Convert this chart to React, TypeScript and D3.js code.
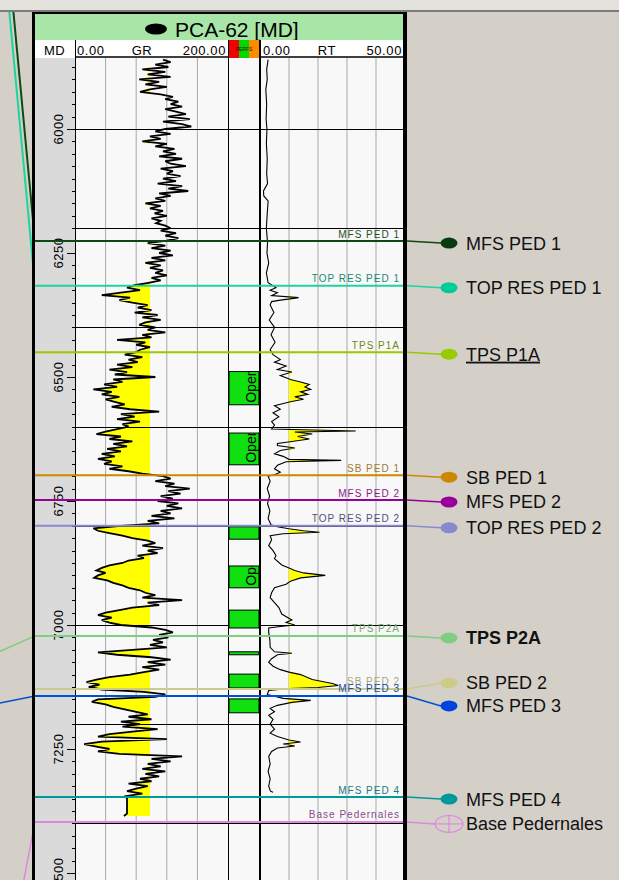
import React from 'react';
import * as d3 from 'd3';

const WIDTH = 619;
const HEIGHT = 880;
const FONT = 'Liberation Sans, Arial, Helvetica, sans-serif';

// ---- GR curve (API), regular 5 ft sampling from 5860 ft ----
const grTopDepth = 5860;
const grStep = 5;
const grValues = [
  115, 125, 105, 122, 88, 118, 95, 125,
  84, 110, 92, 120, 98, 85, 112, 128, 118, 135,
  125, 140, 118, 132, 145, 122, 150, 115, 140, 152,
  118, 105, 125, 98, 112, 88, 120, 105, 130, 115,
  132, 110, 140, 118, 125, 145, 112, 128, 120, 138,
  115, 132, 108, 140, 122, 148, 110, 125, 105, 118,
  92, 112, 98, 115, 104, 120, 100, 112, 106, 118,
  125, 112, 132, 118, 135, 120, 95, 118, 100, 125,
  110, 128, 100, 118, 92, 112, 98, 115, 105, 120,
  100, 112, 96, 78, 68, 85, 60, 35, 72, 58,
  75, 95, 82, 100, 78, 108, 88, 112, 92, 84,
  105, 95, 118, 88, 100, 55, 92, 80, 98, 85,
  80, 65, 88, 70, 82, 55, 75, 45, 68, 52,
  105, 50, 62, 38, 55, 24, 48, 35, 58, 40,
  52, 65, 48, 72, 110, 60, 78, 55, 85, 62,
  70, 55, 40, 28, 60, 45, 75, 50, 68, 42,
  60, 35, 52, 30, 48, 38, 62, 45, 70, 88,
  115, 125, 105, 130, 118, 150, 122, 138, 112, 128,
  108, 135, 120, 140, 112, 125, 100, 130, 95, 110,
  60, 24, 30, 45, 62, 75, 95, 105, 88, 115,
  95, 108, 82, 90, 70, 62, 45, 35, 28, 40,
  30, 25, 42, 50, 62, 70, 85, 92, 105, 88,
  140, 95, 110, 75, 58, 40, 30, 48, 35, 45,
  60, 100, 118, 128, 110, 122, 102, 115, 98, 120,
  75, 30, 55, 100, 125, 95, 118, 88, 110, 90,
  72, 45, 28, 15, 32, 18, 35, 90, 118, 105,
  30, 22, 40, 50, 65, 80, 95, 70, 100, 60,
  85, 62, 108, 75, 45, 30, 120, 35, 12, 28,
  45, 30, 58, 140, 100, 125, 95, 112, 88, 118,
  92, 110, 85, 100, 70, 95, 80, 68, 88, 66,
  68, 68, 68, 68, 68, 68, 68, 64,
];
const grCutoff = 98;

// ---- RT curve (ohm.m) ----
const rtDepths = [
  5860, 5880, 5900, 5920, 5950, 5980, 6000, 6030, 6060, 6090, 6110, 6125, 6135, 6145, 6170, 6200, 6230,
  6250, 6270, 6290, 6310, 6320, 6325, 6330, 6336, 6340, 6342, 6345, 6348, 6355, 6370, 6385, 6400, 6415,
  6430, 6445, 6455, 6465, 6470, 6478, 6485, 6490, 6497, 6505, 6510, 6515, 6520, 6525, 6530, 6535, 6540,
  6545, 6550, 6558, 6565, 6572, 6580, 6590, 6597, 6605, 6609, 6611, 6615, 6620, 6625, 6630, 6634, 6638,
  6643, 6648, 6655, 6660, 6666, 6668, 6671, 6678, 6685, 6692, 6697, 6700, 6710, 6725, 6740, 6755, 6770,
  6785, 6798, 6802, 6806, 6810, 6813, 6816, 6820, 6828, 6840, 6850, 6860, 6866, 6879, 6885, 6890, 6895,
  6900, 6905, 6912, 6918, 6925, 6935, 6945, 6955, 6965, 6978, 6985, 6990, 6995, 7000, 7003, 7006, 7015,
  7030, 7045, 7054, 7057, 7060, 7068, 7075, 7083, 7090, 7095, 7100, 7110, 7118, 7122, 7126, 7128, 7132,
  7140, 7148, 7152, 7156, 7162, 7168, 7175, 7182, 7190, 7200, 7210, 7218, 7225, 7232, 7236, 7240, 7244,
  7248, 7255, 7265, 7280, 7295, 7310, 7325, 7335, 7337,
];
const rtValues = [
  2.8, 2.3, 2.5, 2.0, 2.3, 2.1, 2.4, 2.2, 2.5, 2.3, 2.6, 1.2, 1.3, 2.8, 2.5, 2.2, 2.6,
  2.4, 3.0, 2.2, 2.8, 5.5, 3.5, 6.0, 4.0, 13.3, 11, 7, 4, 3.5, 4.8, 3.2, 5.0, 3.8,
  5.2, 3.5, 4.5, 7, 5, 9, 6, 11, 7, 10.5, 14, 17, 15.5, 17.5, 14, 16.5, 12,
  15, 10.5, 5, 7, 4.5, 6.5, 4, 5, 4, 33, 12, 18, 13, 17, 11, 6, 6,
  12, 7, 5, 8, 10, 28, 9, 6, 5, 7, 5, 2.8, 3.5, 2.5, 3.3, 2.6, 3.4,
  2.8, 3.8, 6, 10, 15, 20.5, 8, 3.5, 4, 3, 4.5, 5.5, 5, 7.5, 10, 12, 15,
  22.5, 14, 10.5, 9, 5, 4, 3.5, 5, 6.5, 7.5, 9.5, 11, 9, 12, 7, 3, 3,
  3.4, 3.5, 5, 11, 6, 4, 3, 4.5, 7, 10, 14, 18, 25, 27, 20, 10, 3,
  2.5, 8, 17.5, 11, 6, 3.5, 5, 3, 4.5, 3.5, 5, 3.5, 6, 10, 14, 8, 12,
  6, 4, 3, 3.5, 2.8, 3.5, 3, 3.6, 4.5,
];
const rtCutoff = 10;

// ---- Formation tops ----
const topNames = [
  'MFS PED 1', 'TOP RES PED 1', 'TPS P1A', 'SB PED 1', 'MFS PED 2', 'TOP RES PED 2',
  'TPS P2A', 'SB PED 2', 'MFS PED 3', 'MFS PED 4', 'Base Pedernales',
];
const topDepths = [6226, 6316, 6450, 6698, 6748, 6800, 7022, 7129, 7143, 7347, 7397];
// depth of the same top in the neighbouring (off-screen, left) well; null = not drawn
const neighborDepths = [4621, 4704, null, null, null, null, 7089, null, 7174, null, 8183];

// ---- Perforations ----
const perfTops = [6489, 6613, 6802, 6881, 6970, 7054, 7099, 7149];
const perfBases = [6556, 6677, 6827, 6925, 7006, 7060, 7127, 7177];
const perfLabels = ['Open', 'Open', '', 'Open', '', '', '', ''];

// ---- Axis ticks ----
const depthLabels = [6000, 6250, 6500, 6750, 7000, 7250, 7500];
const headerTitle = 'PCA-62 [MD]';

// ---- Styles ----
const topLineColors = ['#0b4a12', '#1fd3a0', '#99c800', '#cc8a00', '#990099', '#8a8ad0', '#80cc80', '#cccc88', '#0050d0', '#009a9a', '#dd88dd'];
const topTextColors = ['#1f4f1f', '#1a8a6a', '#6f8a10', '#a07a30', '#8a1a8a', '#505080', '#70a870', '#a8a878', '#1848a8', '#1a7a7a', '#8a4a8a'];
const topMarkerColors = ['#0a3a10', '#00cc99', '#99cc00', '#cc8800', '#990099', '#8888cc', '#80cc80', '#cccc88', '#0044dd', '#009999', '#e088e0'];

export default function App() {
  const y = d3.scaleLinear().domain([6000, 7250]).range([129, 749]);
  const grX = d3.scaleLinear().domain([0, 200]).range([75, 228]);
  const rtX = d3.scaleLinear().domain([0, 50]).range([260, 405]);

  const grData = grValues.map((v, i) => ({ d: grTopDepth + i * grStep, v }));
  const rtData = rtDepths.map((d, i) => ({ d, v: rtValues[i] }));

  const grLine = d3.line<any>().x((p) => grX(p.v)).y((p) => y(p.d));
  const grArea = d3.area<any>().y((p) => y(p.d)).x0(grX(grCutoff)).x1((p) => grX(Math.min(p.v, grCutoff)));
  const rtLine = d3.line<any>().x((p) => rtX(p.v)).y((p) => y(p.d));
  const rtArea = d3.area<any>().y((p) => y(p.d)).x0(rtX(rtCutoff)).x1((p) => rtX(Math.max(p.v, rtCutoff)));

  const trackTop = 58;
  const trackBottom = HEIGHT;

  const minorTicks = d3.range(5850, 7550, 25).filter((d) => y(d) > trackTop && y(d) < trackBottom);
  const majorLines = d3.range(5800, 7600, 200).filter((d) => y(d) > trackTop && y(d) < trackBottom);

  // right-hand label positions: slightly below line, then de-overlapped
  const labelYs = topDepths.map((d) => y(d) + 2);
  const minGap = 23;
  for (let it = 0; it < 20; it++) {
    for (let i = 1; i < labelYs.length; i++) {
      const gap = labelYs[i] - labelYs[i - 1];
      if (gap < minGap) {
        const push = (minGap - gap) / 2;
        labelYs[i - 1] -= push;
        labelYs[i] += push;
      }
    }
  }

  const panelL = 35;
  const panelR = 403;
  const neighborX = -40;

  return (
    <svg
      width={WIDTH}
      height={HEIGHT}
      style={{ position: 'absolute', left: 0, top: 0, display: 'block' }}
      fontFamily={FONT}
    >
      <defs>
        <clipPath id="grClip">
          <rect x={75} y={trackTop} width={153} height={trackBottom - trackTop} />
        </clipPath>
        <clipPath id="rtClip">
          <rect x={260} y={trackTop} width={143} height={trackBottom - trackTop} />
        </clipPath>
        {perfTops.map((t, i) => (
          <clipPath id={`perfClip${i}`} key={i}>
            <rect x={229} y={y(t)} width={30} height={y(perfBases[i]) - y(t)} />
          </clipPath>
        ))}
      </defs>

      {/* background */}
      <rect x={0} y={0} width={WIDTH} height={HEIGHT} fill="#d4d0c8" />

      {/* correlation lines to neighbouring well (left) */}
      {topDepths.map((d, i) =>
        neighborDepths[i] == null ? null : (
          <line
            key={`nb${i}`}
            x1={neighborX}
            y1={y(neighborDepths[i] as number)}
            x2={panelL}
            y2={y(d)}
            stroke={topLineColors[i]}
            strokeWidth={i < 2 ? 2 : 1.5}
          />
        )
      )}

      <rect x={0} y={0} width={WIDTH} height={10} fill="#e4e2dd" />
      <rect x={0} y={10} width={WIDTH} height={2} fill="#7a7a7a" />

      {/* header */}
      <rect x={panelL} y={13} width={panelR - panelL} height={27} fill="#a8e6a8" />
      <ellipse cx={156} cy={29} rx={11} ry={5.5} fill="#000" />
      <text x={175} y={37} fontSize={21} fill="#000">{headerTitle}</text>

      <rect x={panelL} y={40} width={panelR - panelL} height={18} fill="#ffffff" />
      <text x={44} y={55} fontSize={13} letterSpacing={0.4}>MD</text>
      <text x={77} y={55} fontSize={13} letterSpacing={0.6}>0.00</text>
      <text x={142} y={55} fontSize={13} textAnchor="middle" letterSpacing={0.6}>GR</text>
      <text x={226} y={55} fontSize={13} textAnchor="end" letterSpacing={0.6}>200.00</text>
      <text x={263} y={55} fontSize={13} letterSpacing={0.6}>0.00</text>
      <text x={327} y={55} fontSize={13} textAnchor="middle" letterSpacing={0.6}>RT</text>
      <text x={402} y={55} fontSize={13} textAnchor="end" letterSpacing={0.6}>50.00</text>
      <line x1={76} x2={228} y1={57} y2={57} stroke="#000" strokeWidth={1.5} />
      <line x1={261} x2={403} y1={57} y2={57} stroke="#000" strokeWidth={1.5} />
      <rect x={229} y={40} width={10} height={18} fill="#f00000" />
      <rect x={239} y={40} width={10} height={18} fill="#00d800" />
      <rect x={249} y={40} width={10} height={18} fill="#ff8c00" />
      <text x={244} y={51} fontSize={5} textAnchor="middle" fill="#400000">PERFS</text>
      <line x1={75.5} x2={75.5} y1={40} y2={58} stroke="#000" />
      <line x1={228.5} x2={228.5} y1={40} y2={58} stroke="#000" />

      {/* track backgrounds */}
      <rect x={panelL} y={trackTop} width={40} height={trackBottom - trackTop} fill="#dadada" />
      <rect x={75} y={trackTop} width={panelR - 75} height={trackBottom - trackTop} fill="#f8f8f8" />

      {/* vertical grid */}
      {[40, 80, 120, 160].map((g) => (
        <line key={`gg${g}`} x1={grX(g)} x2={grX(g)} y1={trackTop} y2={trackBottom} stroke="#a8a8a8" />
      ))}
      {[10, 20, 30, 40].map((g) => (
        <line key={`rg${g}`} x1={rtX(g)} x2={rtX(g)} y1={trackTop} y2={trackBottom} stroke="#a8a8a8" />
      ))}

      {/* fills */}
      <g clipPath="url(#grClip)">
        <path d={grArea(grData) || ''} fill="#ffff00" stroke="none" />
      </g>
      <g clipPath="url(#rtClip)">
        <path d={rtArea(rtData) || ''} fill="#ffff00" stroke="none" />
      </g>

      {/* major horizontal lines */}
      {majorLines.map((d) => (
        <line key={`ml${d}`} x1={75} x2={panelR} y1={Math.round(y(d)) + 0.5} y2={Math.round(y(d)) + 0.5} stroke="#000" />
      ))}

      {/* curves */}
      <g clipPath="url(#grClip)">
        <path d={grLine(grData) || ''} fill="none" stroke="#000" strokeWidth={1.8} strokeLinejoin="miter" strokeMiterlimit={3} />
      </g>
      <g clipPath="url(#rtClip)">
        <path d={rtLine(rtData) || ''} fill="none" stroke="#000" strokeWidth={1.1} />
      </g>

      {/* perforations */}
      {perfTops.map((t, i) => {
        const y0 = y(t);
        const y1 = y(perfBases[i]);
        return (
          <g key={`pf${i}`}>
            <rect x={229} y={y0} width={30} height={y1 - y0} fill="#10e010" stroke="#000" strokeWidth={1} />
            {perfLabels[i] ? (
              <g clipPath={`url(#perfClip${i})`}>
                <text transform={`translate(256,${y1 - 2}) rotate(-90)`} fontSize={14} fill="#000">
                  {perfLabels[i]}
                </text>
              </g>
            ) : null}
          </g>
        );
      })}

      {/* track separators */}
      <line x1={75.5} x2={75.5} y1={trackTop} y2={trackBottom} stroke="#000" />
      <line x1={228.5} x2={228.5} y1={trackTop} y2={trackBottom} stroke="#000" />
      <rect x={259} y={40} width={2} height={trackBottom - 40} fill="#000" />

      {/* depth ticks and labels */}
      {minorTicks.map((d) => (
        <line
          key={`mt${d}`}
          x1={d % 250 === 0 ? 67 : 72}
          x2={75}
          y1={Math.round(y(d)) + 0.5}
          y2={Math.round(y(d)) + 0.5}
          stroke="#000"
        />
      ))}
      {depthLabels.map((d) => (
        <text
          key={`dl${d}`}
          transform={`translate(63,${y(d)}) rotate(-90)`}
          textAnchor="middle"
          fontSize={13}
          letterSpacing={0.5}
          fill="#000"
        >
          {d}
        </text>
      ))}

      {/* formation tops */}
      {topDepths.map((d, i) => {
        const ly = y(d);
        const my = labelYs[i];
        const isBase = i === topDepths.length - 1;
        return (
          <g key={`top${i}`}>
            <line x1={panelL} x2={407} y1={ly} y2={ly} stroke={topLineColors[i]} strokeWidth={2} />
            <line x1={407} x2={isBase ? 435 : 441} y1={ly} y2={my} stroke={topLineColors[i]} strokeWidth={1.5} />
            <text x={400} y={ly - 3.5} textAnchor="end" fontSize={10} letterSpacing={1} fill={topTextColors[i]}>
              {topNames[i]}
            </text>
            {isBase ? (
              <g>
                <ellipse cx={449} cy={my} rx={14} ry={8.5} fill="none" stroke={topMarkerColors[i]} strokeWidth={1.2} />
                <line x1={435} x2={463} y1={my} y2={my} stroke={topMarkerColors[i]} strokeWidth={1.2} />
                <line x1={449} x2={449} y1={my - 8.5} y2={my + 8.5} stroke={topMarkerColors[i]} strokeWidth={1.2} />
              </g>
            ) : (
              <ellipse cx={449} cy={my} rx={8.5} ry={5.5} fill={topMarkerColors[i]} />
            )}
            <text
              x={466}
              y={my}
              dy="0.36em"
              fontSize={18}
              fill="#111"
              fontWeight={topNames[i] === 'TPS P2A' ? 'bold' : 'normal'}
              textDecoration={topNames[i] === 'TPS P1A' ? 'underline' : 'none'}
            >
              {topNames[i]}
            </text>
          </g>
        );
      })}

      {/* panel borders */}
      <rect x={32} y={13} width={3} height={HEIGHT - 13} fill="#000" />
      <rect x={403} y={13} width={4} height={HEIGHT - 13} fill="#000" />
      <rect x={32} y={12} width={375} height={2} fill="#000" />
    </svg>
  );
}
